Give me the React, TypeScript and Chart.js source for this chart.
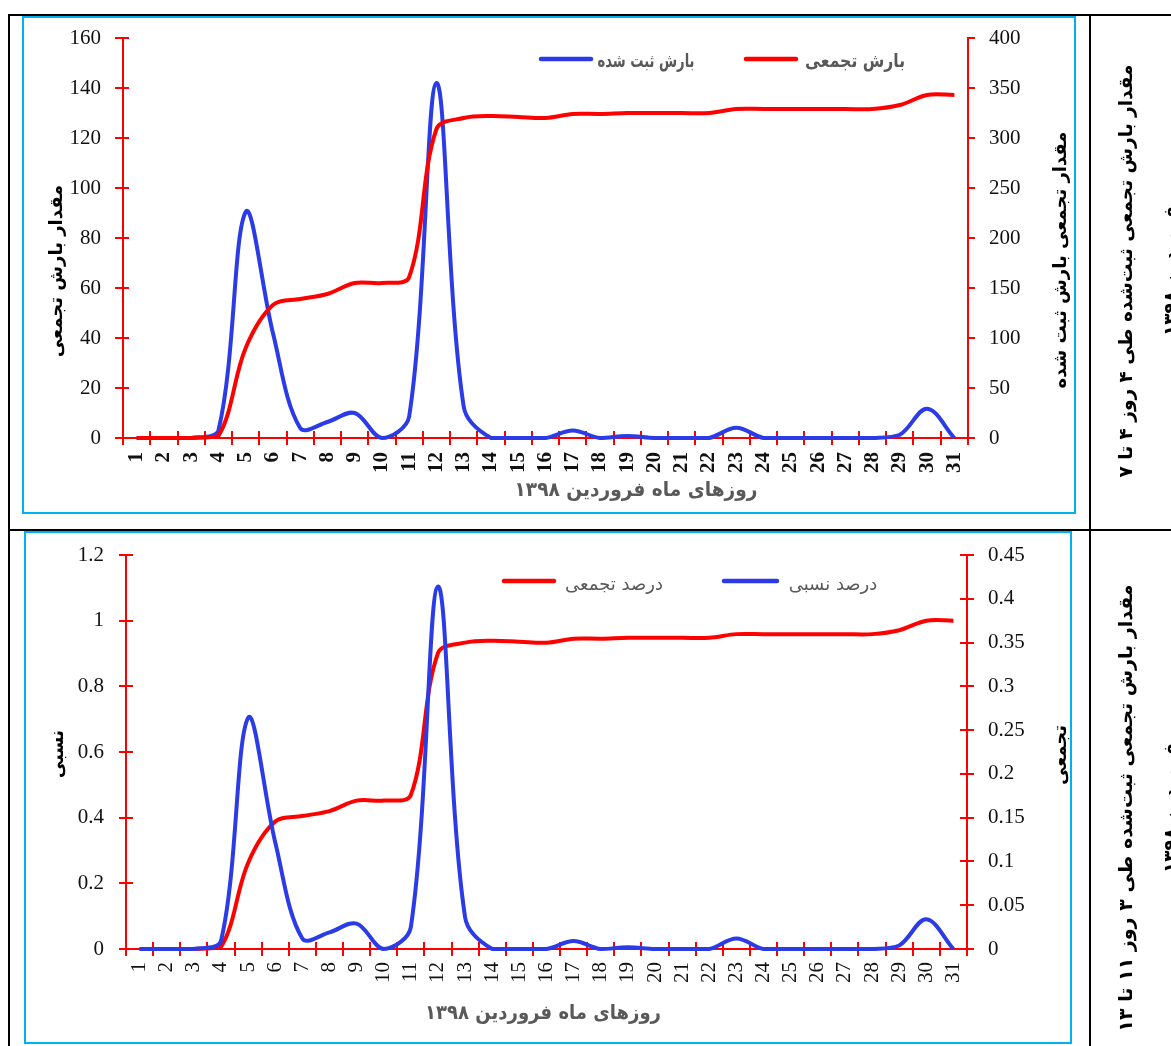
import React, { useEffect, useRef } from 'react';
import { Chart, registerables } from 'chart.js';

Chart.register(...registerables);

const days = ['1', '2', '3', '4', '5', '6', '7', '8', '9', '10', '11', '12', '13', '14', '15', '16', '17', '18', '19', '20', '21', '22', '23', '24', '25', '26', '27', '28', '29', '30', '31'];

// Top chart: daily recorded rainfall (left axis) and cumulative rainfall (right axis)
const dailyRain = [0, 0, 0, 3, 90.4, 42, 4, 6.4, 10, 0, 8.7, 142, 12.5, 0, 0, 0, 3, 0, 0.8, 0, 0, 0, 4.1, 0, 0, 0, 0, 0, 1.3, 11.7, 0];
const cumulativeRain = [0, 0, 0, 2, 90, 133, 139, 144, 155, 155, 161, 309, 320, 322, 321, 320, 324, 324, 325, 325, 325, 325, 329, 329, 329, 329, 329, 329, 333, 343, 343];

// Bottom chart: relative share (right axis) and cumulative share (left axis)
const relativeShare = [0, 0, 0, 0.009, 0.264, 0.122, 0.012, 0.019, 0.029, 0, 0.025, 0.414, 0.036, 0, 0, 0, 0.009, 0, 0.002, 0, 0, 0, 0.012, 0, 0, 0, 0, 0, 0.004, 0.034, 0];
const cumulativeShare = [0, 0, 0, 0.006, 0.262, 0.388, 0.405, 0.42, 0.452, 0.452, 0.469, 0.901, 0.933, 0.939, 0.936, 0.933, 0.945, 0.945, 0.948, 0.948, 0.948, 0.948, 0.959, 0.959, 0.959, 0.959, 0.959, 0.959, 0.971, 1, 1];

const rainTicksLeft = ['0', '20', '40', '60', '80', '100', '120', '140', '160'];
const rainTicksRight = ['0', '50', '100', '150', '200', '250', '300', '350', '400'];
const shareTicksLeft = ['0', '0.2', '0.4', '0.6', '0.8', '1', '1.2'];
const shareTicksRight = ['0', '0.05', '0.1', '0.15', '0.2', '0.25', '0.3', '0.35', '0.4', '0.45'];

const RED = '#FF0000';
const BLUE = '#2B3BE5';
const CYAN = '#00B0F0';
const GREY = '#595959';
const FA = '"DejaVu Sans", "Noto Sans", sans-serif';
const SERIF = '"Liberation Serif", "DejaVu Serif", serif';

type TextSpec = { text: string; x: number; y: number; w: number; rot?: boolean; font: string; color: string };
type LegendSpec = { color: string; x1: number; x2: number; y: number };

type PanelSpec = {
  left: number; top: number; width: number; height: number;
  padTop: number; leftW: number; rightW: number; xH: number;
  datasets: any[];
  yMax: number; yStep: number; yLabels: string[];
  y1Max: number; y1Step: number; y1Labels: string[];
  xBold: boolean; xPad: number;
  leftTick: [number, number];
  rightTick: [number, number];
  xTick: [number, number];
  texts: TextSpec[];
  legendLines: LegendSpec[];
};

function drawText(ctx: CanvasRenderingContext2D, t: TextSpec, ox: number, oy: number) {
  ctx.save();
  ctx.translate(t.x - ox, t.y - oy);
  if (t.rot) ctx.rotate(-Math.PI / 2);
  ctx.font = t.font;
  ctx.fillStyle = t.color;
  ctx.textAlign = 'center';
  ctx.textBaseline = 'middle';
  (ctx as any).direction = 'rtl';
  ctx.fillText(t.text, 0, 0, t.w);
  ctx.restore();
}

function makePlugin(spec: PanelSpec) {
  return {
    id: 'decor',
    beforeDatasetsDraw(chart: any) {
      const ctx: CanvasRenderingContext2D = chart.ctx;
      const area = chart.chartArea;
      ctx.save();
      ctx.strokeStyle = RED;
      ctx.lineWidth = 2;
      const seg = (x1: number, y1: number, x2: number, y2: number) => {
        ctx.beginPath();
        ctx.moveTo(x1, y1);
        ctx.lineTo(x2, y2);
        ctx.stroke();
      };
      const xs = chart.scales.x;
      for (let k = 0; k <= days.length; k++) {
        const px = Math.round(xs.getPixelForValue(k - 0.5));
        seg(px, area.bottom - spec.xTick[0], px, area.bottom + spec.xTick[1]);
      }
      const yl = chart.scales.y;
      yl.ticks.forEach((t: any) => {
        const py = Math.round(yl.getPixelForValue(t.value));
        seg(area.left - spec.leftTick[0], py, area.left + spec.leftTick[1], py);
      });
      const yr = chart.scales.y1;
      yr.ticks.forEach((t: any) => {
        const py = Math.round(yr.getPixelForValue(t.value));
        seg(area.right - spec.rightTick[0], py, area.right + spec.rightTick[1], py);
      });
      ctx.restore();
    },
    afterDraw(chart: any) {
      const ctx: CanvasRenderingContext2D = chart.ctx;
      spec.legendLines.forEach((l) => {
        ctx.save();
        ctx.strokeStyle = l.color;
        ctx.lineWidth = 4.5;
        ctx.lineCap = 'round';
        ctx.beginPath();
        ctx.moveTo(l.x1 - spec.left, l.y - spec.top);
        ctx.lineTo(l.x2 - spec.left, l.y - spec.top);
        ctx.stroke();
        ctx.restore();
      });
      spec.texts.forEach((t) => drawText(ctx, t, spec.left, spec.top));
    },
  };
}

function yScale(position: 'left' | 'right', max: number, step: number, labels: string[], width: number) {
  return {
    position,
    min: 0,
    max,
    grid: { display: false, drawTicks: false },
    border: { display: true, color: RED, width: 2 },
    ticks: {
      stepSize: step,
      padding: position === 'left' ? 22 : 21,
      color: '#111',
      font: { family: SERIF, size: 21 },
      callback: (v: any, i: number) => (labels[i] !== undefined ? labels[i] : String(v)),
    },
    afterFit: (s: any) => {
      s.width = width;
      s.paddingTop = 0;
      s.paddingBottom = 0;
    },
  };
}

function Panel({ spec }: { spec: PanelSpec }) {
  const ref = useRef<HTMLCanvasElement>(null);
  useEffect(() => {
    if (!ref.current) return;
    const chart = new Chart(ref.current, {
      type: 'line',
      data: { labels: days, datasets: spec.datasets },
      options: {
        animation: false,
        responsive: false,
        maintainAspectRatio: false,
        layout: { padding: { top: spec.padTop, left: 0, right: 0, bottom: 0 } },
        plugins: { legend: { display: false }, tooltip: { enabled: false } },
        scales: {
          x: {
            type: 'category',
            offset: true,
            grid: { display: false, drawTicks: false },
            border: { display: true, color: RED, width: 2 },
            ticks: {
              autoSkip: false,
              minRotation: 90,
              maxRotation: 90,
              padding: spec.xPad,
              color: '#111',
              font: { family: SERIF, size: 21, weight: spec.xBold ? 'bold' : 'normal' },
            },
            afterFit: (s: any) => {
              s.height = spec.xH;
              s.paddingLeft = 0;
              s.paddingRight = 0;
            },
          },
          y: yScale('left', spec.yMax, spec.yStep, spec.yLabels, spec.leftW),
          y1: yScale('right', spec.y1Max, spec.y1Step, spec.y1Labels, spec.rightW),
        },
      } as any,
      plugins: [makePlugin(spec) as any],
    });
    return () => chart.destroy();
  }, [spec]);
  return (
    <canvas
      ref={ref}
      width={spec.width}
      height={spec.height}
      style={{ position: 'absolute', left: spec.left, top: spec.top, width: spec.width, height: spec.height }}
    />
  );
}

const lineDefaults = { borderWidth: 4, pointRadius: 0, pointHoverRadius: 0, tension: 0.35, fill: false, clip: false };

const topSpec: PanelSpec = {
  left: 23, top: 17, width: 1051, height: 495,
  padTop: 21, leftW: 100, rightW: 106, xH: 74,
  datasets: [
    { label: 'بارش تجمعی', data: cumulativeRain, yAxisID: 'y1', borderColor: RED, ...lineDefaults },
    { label: 'بارش ثبت شده', data: dailyRain, yAxisID: 'y', borderColor: BLUE, ...lineDefaults },
  ],
  yMax: 160, yStep: 20, yLabels: rainTicksLeft,
  y1Max: 400, y1Step: 50, y1Labels: rainTicksRight,
  xBold: true, xPad: 14,
  leftTick: [8, 6], rightTick: [0, 7], xTick: [7, 7],
  texts: [
    { text: 'روزهای ماه فروردین ۱۳۹۸', x: 636, y: 491, w: 243, font: `bold 20px ${FA}`, color: GREY },
    { text: 'مقدار بارش تجمعی', x: 57, y: 271, w: 173, rot: true, font: `bold 18px ${FA}`, color: '#000' },
    { text: 'مقدار تجمعی بارش ثبت شده', x: 1061, y: 260, w: 330, rot: true, font: `bold 18px ${FA}`, color: '#000' },
    { text: 'بارش ثبت شده', x: 646, y: 62, w: 97, font: `bold 19px ${FA}`, color: GREY },
    { text: 'بارش تجمعی', x: 855, y: 62, w: 100, font: `bold 19px ${FA}`, color: GREY },
  ],
  legendLines: [
    { color: BLUE, x1: 541, x2: 591, y: 59 },
    { color: RED, x1: 746, x2: 796, y: 59 },
  ],
};

const bottomSpec: PanelSpec = {
  left: 26, top: 533, width: 1044, height: 508,
  padTop: 22, leftW: 100, rightW: 103, xH: 92,
  datasets: [
    { label: 'درصد نسبی', data: relativeShare, yAxisID: 'y1', borderColor: BLUE, ...lineDefaults },
    { label: 'درصد تجمعی', data: cumulativeShare, yAxisID: 'y', borderColor: RED, ...lineDefaults },
  ],
  yMax: 1.2, yStep: 0.2, yLabels: shareTicksLeft,
  y1Max: 0.45, y1Step: 0.05, y1Labels: shareTicksRight,
  xBold: false, xPad: 13,
  leftTick: [7, 7], rightTick: [7, 7], xTick: [7, 7],
  texts: [
    { text: 'روزهای ماه فروردین ۱۳۹۸', x: 543, y: 1014, w: 236, font: `bold 20px ${FA}`, color: GREY },
    { text: 'نسبی', x: 58, y: 754, w: 48, rot: true, font: `bold 18px ${FA}`, color: '#000' },
    { text: 'تجمعی', x: 1061, y: 755, w: 60, rot: true, font: `bold 18px ${FA}`, color: '#000' },
    { text: 'درصد تجمعی', x: 614, y: 585, w: 108, font: `18px ${FA}`, color: GREY },
    { text: 'درصد نسبی', x: 833, y: 585, w: 97, font: `18px ${FA}`, color: GREY },
  ],
  legendLines: [
    { color: RED, x1: 504, x2: 554, y: 581 },
    { color: BLUE, x1: 724, x2: 777, y: 581 },
  ],
};

const sideTexts: TextSpec[] = [
  { text: 'مقدار بارش تجمعی ثبت‌شده طی ۴ روز ۴ تا ۷', x: 1127, y: 271, w: 413, rot: true, font: `bold 19px ${FA}`, color: '#000' },
  { text: 'فروردین ۱۳۹۸', x: 1172, y: 271, w: 130, rot: true, font: `bold 19px ${FA}`, color: '#000' },
  { text: 'مقدار بارش تجمعی ثبت‌شده طی ۳ روز ۱۱ تا ۱۳', x: 1127, y: 808, w: 465, rot: true, font: `bold 19px ${FA}`, color: '#000' },
  { text: 'فروردین ۱۳۹۸', x: 1172, y: 808, w: 130, rot: true, font: `bold 19px ${FA}`, color: '#000' },
];

function SideColumn() {
  const ref = useRef<HTMLCanvasElement>(null);
  useEffect(() => {
    const c = ref.current;
    if (!c) return;
    const ctx = c.getContext('2d');
    if (!ctx) return;
    ctx.clearRect(0, 0, c.width, c.height);
    sideTexts.forEach((t) => drawText(ctx, t, 1092, 0));
  }, []);
  return <canvas ref={ref} width={79} height={1046} style={{ position: 'absolute', left: 1092, top: 0, width: 79, height: 1046 }} />;
}

export default function App() {
  const line = (l: number, t: number, w: number, h: number, c: string) => (
    <div style={{ position: 'absolute', left: l, top: t, width: w, height: h, background: c }} />
  );
  return (
    <div style={{ position: 'absolute', left: 0, top: 0, width: 1171, height: 1046, overflow: 'hidden', background: '#fff' }}>
      {line(8, 14, 1163, 2, '#000')}
      {line(8, 14, 2, 1032, '#000')}
      {line(1089, 14, 2, 1032, '#000')}
      {line(8, 529, 1163, 2, '#000')}
      <div style={{ position: 'absolute', left: 22, top: 16, width: 1050, height: 494, border: `2px solid ${CYAN}` }} />
      <div style={{ position: 'absolute', left: 24, top: 531, width: 1044, height: 509, border: `2px solid ${CYAN}` }} />
      <Panel spec={topSpec} />
      <Panel spec={bottomSpec} />
      <SideColumn />
    </div>
  );
}
